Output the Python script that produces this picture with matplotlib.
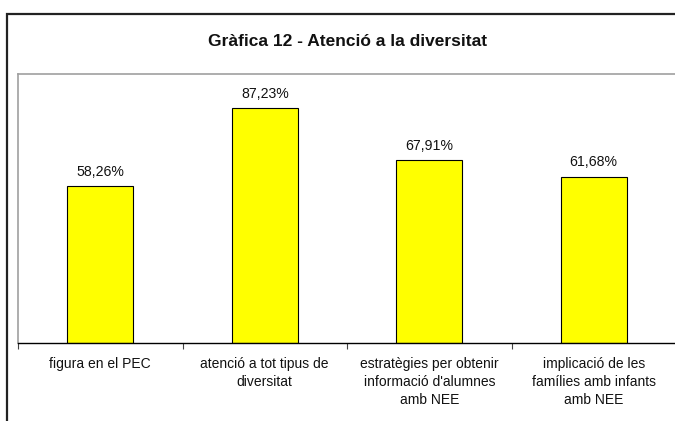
import matplotlib
matplotlib.use("Agg")
from matplotlib import pyplot as plt
from matplotlib.patches import Rectangle
from matplotlib.ticker import FixedLocator

TITLE = "Gràfica 12 - Atenció a la diversitat"
CATEGORIES = [
    "figura en el PEC",
    "atenció a tot tipus de\ndiversitat",
    "estratègies per obtenir\ninformació d'alumnes\namb NEE",
    "implicació de les\nfamílies amb infants\namb NEE",
]
VALUES = [58.26, 87.23, 67.91, 61.68]
VALUE_LABELS = ["58,26%", "87,23%", "67,91%", "61,68%"]

plt.rcParams["font.family"] = ["Liberation Sans", "DejaVu Sans"]

fig = plt.figure(figsize=(6.75, 4.21), dpi=100)
W, H = 675, 421

# outer chart frame (cut off on the right and bottom, like the source)
fig.patches.append(
    Rectangle((7 / W, -0.2), 1.2, 1.2 - 14 / H, transform=fig.transFigure,
              fill=False, edgecolor="#222222", linewidth=1.6, clip_on=False)
)

ax = fig.add_axes([18 / W, (H - 343) / H, 658 / W, 269 / H])
x = list(range(len(CATEGORIES)))
ax.bar(x, VALUES, width=0.4, color="#FFFF00", edgecolor="black", linewidth=0.8, zorder=2)

for xi, v, lab in zip(x, VALUES, VALUE_LABELS):
    ax.annotate(lab, (xi, v), xytext=(0, 5.5), textcoords="offset points",
                ha="center", va="bottom", fontsize=10.2, color="#111111")

ax.set_xlim(-0.5, len(CATEGORIES) - 0.5)
ax.set_ylim(0, 100)
ax.set_yticks([])

ax.xaxis.set_major_locator(FixedLocator(x))
ax.set_xticklabels(CATEGORIES, fontsize=10, linespacing=1.35, color="#111111")
ax.xaxis.set_minor_locator(FixedLocator([i - 0.5 for i in range(len(CATEGORIES) + 1)]))
ax.tick_params(axis="x", which="major", length=0, pad=10)
ax.tick_params(axis="x", which="minor", length=4, width=0.8, color="#444444")

for side in ["left", "top", "right"]:
    ax.spines[side].set_color("#a0a0a0")
    ax.spines[side].set_linewidth(1.2)
ax.spines["bottom"].set_color("black")
ax.spines["bottom"].set_linewidth(1.0)

fig.text(348 / W, (H - 41) / H, TITLE, ha="center", va="center",
         fontsize=12.5, fontweight="bold", color="#111111")

fig.savefig("out.png", dpi=100)
